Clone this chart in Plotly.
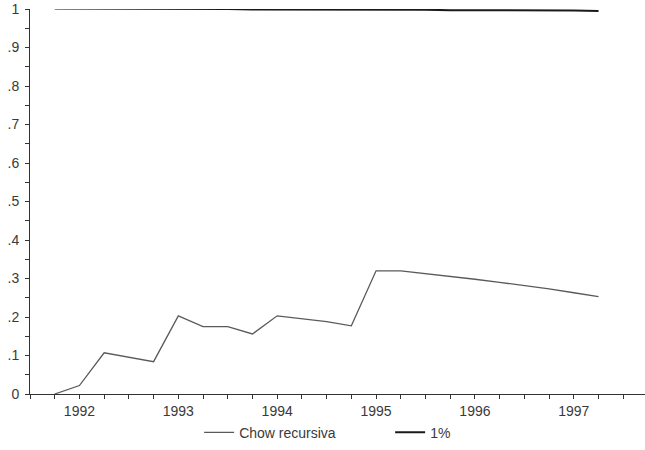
import plotly.graph_objects as go

# Quarterly dates (decimal years)
quarters = [1991.75, 1992.0, 1992.25, 1992.5, 1992.75, 1993.0, 1993.25, 1993.5, 1993.75,
            1994.0, 1994.25, 1994.5, 1994.75, 1995.0, 1995.25, 1995.5, 1995.75,
            1996.0, 1996.25, 1996.5, 1996.75, 1997.0, 1997.25]

chow_recursiva = [0.0, 0.022, 0.107, 0.096, 0.084, 0.203, 0.175, 0.175, 0.156,
                  0.203, 0.196, 0.188, 0.177, 0.320, 0.320, 0.313, 0.306,
                  0.298, 0.290, 0.282, 0.273, 0.263, 0.253]

uno_pct = [1.001, 1.001, 1.001, 1.000, 1.000, 1.000, 1.000, 1.000, 0.999,
           0.999, 0.999, 0.999, 0.998, 0.998, 0.998, 0.998, 0.997,
           0.997, 0.997, 0.996, 0.996, 0.996, 0.995]

y_tickvals = [0, 0.1, 0.2, 0.3, 0.4, 0.5, 0.6, 0.7, 0.8, 0.9, 1.0]
y_ticktext = ["0", ".1", ".2", ".3", ".4", ".5", ".6", ".7", ".8", ".9", "1"]
x_tickvals = [1992, 1993, 1994, 1995, 1996, 1997]
x_ticktext = ["1992", "1993", "1994", "1995", "1996", "1997"]

font_family = "Liberation Sans, Arial, sans-serif"
text_color = "#3a3a3a"

fig = go.Figure()
fig.add_trace(go.Scatter(x=quarters, y=chow_recursiva, mode="lines", name="Chow recursiva",
                         line=dict(color="#5a5a5a", width=1.3), cliponaxis=False))
fig.add_trace(go.Scatter(x=quarters, y=uno_pct, mode="lines", name="1%",
                         line=dict(color="#1a1a1a", width=2), cliponaxis=False))

fig.update_layout(
    width=645, height=450,
    margin=dict(l=30, r=0, t=9, b=56),
    paper_bgcolor="white", plot_bgcolor="white",
    font=dict(family=font_family, size=14, color=text_color),
    showlegend=True,
    legend=dict(orientation="h", x=0.275, xanchor="left", y=-0.059, yanchor="top",
                font=dict(size=14, color=text_color), entrywidth=146,
                bgcolor="rgba(0,0,0,0)"),
)
fig.update_xaxes(
    range=[1991.5, 1997.72], showgrid=False, zeroline=False, automargin=False,
    showline=True, linecolor="#333", linewidth=1,
    tickmode="array", tickvals=x_tickvals, ticktext=x_ticktext,
    ticks="outside", ticklen=4, tickcolor="#333",
    minor=dict(dtick=0.25, tick0=1991.5, ticks="outside", ticklen=4, tickcolor="#333"),
)
fig.update_yaxes(
    range=[0, 1], showgrid=False, zeroline=False, automargin=False,
    showline=True, linecolor="#333", linewidth=1,
    tickmode="array", tickvals=y_tickvals, ticktext=y_ticktext,
    ticks="outside", ticklen=4, tickcolor="#333", ticklabelstandoff=3,
    minor=dict(dtick=0.05, tick0=0, ticks="outside", ticklen=4, tickcolor="#333"),
)

# remove the default page margin so the figure sits at the window's corner
fig.write_html("out.html", config={"displayModeBar": False},
               post_script="document.body.style.margin='0';")
